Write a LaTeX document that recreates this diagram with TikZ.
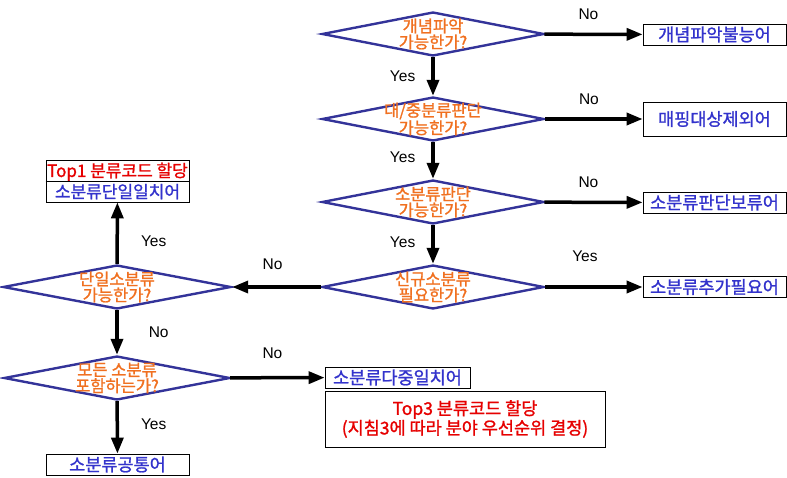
\documentclass[tikz,border=0pt]{standalone}
\usepackage{fontspec}
\setmainfont{Liberation Sans}
\newfontfamily\kr[FakeBold=1.2]{Noto Sans CJK KR}
\usetikzlibrary{shapes.geometric,arrows.meta}
\definecolor{navy}{RGB}{51,51,153}
\definecolor{qorange}{RGB}{240,112,32}
\definecolor{tblue}{RGB}{51,51,204}
\definecolor{tred}{RGB}{230,0,0}
\tikzset{
  dec/.style={diamond, draw=navy, line width=2.4pt, minimum width=222pt,
    minimum height=44pt, inner sep=0pt},
  qtext/.style={text=qorange, font=\kr\fontsize{16.5}{16}\selectfont,
    align=center, inner sep=0pt},
  box/.style={draw, line width=0.8pt, fill=white, minimum width=143pt,
    minimum height=21pt, inner sep=0pt, text=tblue,
    font=\kr\fontsize{17.5}{18}\selectfont},
  arr/.style={line width=3.5pt, -{Triangle[length=16pt,width=12pt]}},
  yn/.style={font=\fontsize{15.5}{17}\selectfont, inner sep=0pt}
}
\begin{document}
\begin{tikzpicture}[x=1pt,y=-1pt]
\useasboundingbox (0,0) rectangle (787,477);

% 판단 마름모
\node[dec, label={[qtext]center:{개념파악\\가능한가?}}] (d1) at (433,34) {};
\node[dec, label={[qtext]center:{대/중분류판단\\가능한가?}}] (d2) at (433,119) {};
\node[dec, label={[qtext]center:{소분류판단\\가능한가?}}] (d3) at (433,202) {};
\node[dec, label={[qtext]center:{신규소분류\\필요한가?}}] (d4) at (433,287) {};
\node[dec, minimum width=228pt, label={[qtext]center:{단일소분류\\가능한가?}}] (dl) at (117,287) {};
\node[dec, minimum width=226pt, label={[qtext]center:{모든 소분류\\포함하는가?}}] (db) at (117,378) {};

% 결과 상자
\node[box] (b1) at (714.5,34.5) {개념파악불능어};
\node[box, minimum height=34pt] (b2) at (714.5,119) {매핑대상제외어};
\node[box] (b3) at (714.5,202.5) {소분류판단보류어};
\node[box] (b4) at (714.5,287) {소분류추가필요어};
\node[box, minimum height=42pt, align=center, font=\kr\fontsize{17}{21}\selectfont]
  (top1) at (117.5,181) {\textcolor{tred}{Top1 분류코드 할당}\\소분류단일일치어};
\draw[line width=0.8pt] (top1.west) -- (top1.east);
\node[box] (bb) at (117.5,464.5) {소분류공통어};
\node[box, minimum width=145pt] (bm) at (397.5,377.5) {소분류다중일치어};
\node[box, minimum width=280pt, minimum height=56pt, text=tred, align=center,
  font=\kr\fontsize{17.5}{18}\selectfont]
  (top3) at (465,419) {Top3 분류코드 할당\\(지침3에 따라 분야 우선순위 결정)};

% 연결선
\draw[arr] (d1) -- (b1) node[yn, midway, above=13pt, xshift=-5pt] {No};
\draw[arr] (d2) -- (b2) node[yn, midway, above=13pt, xshift=-5pt] {No};
\draw[arr] (d3) -- (b3) node[yn, midway, above=13pt, xshift=-5pt] {No};
\draw[arr] (d4) -- (b4) node[yn, midway, above=24pt, xshift=-9pt] {Yes};
\draw[arr] (d1) -- (d2) node[yn, midway, left=16pt] {Yes};
\draw[arr] (d2) -- (d3) node[yn, midway, left=16pt, yshift=3pt] {Yes};
\draw[arr] (d3) -- (d4) node[yn, midway, left=16pt, yshift=2pt] {Yes};
\draw[arr] (d4) -- (dl) node[yn, midway, above=16pt, xshift=-4pt] {No};
\draw[arr] (dl) -- (top1) node[yn, midway, right=22pt, yshift=-8pt] {Yes};
\draw[arr] (dl) -- (db) node[yn, midway, right=30pt] {No};
\draw[arr] (db) -- (bb) node[yn, midway, right=22pt, yshift=3pt] {Yes};
\draw[arr] (db) -- (bm) node[yn, midway, above=17pt, xshift=-5pt] {No};
\end{tikzpicture}
\end{document}
